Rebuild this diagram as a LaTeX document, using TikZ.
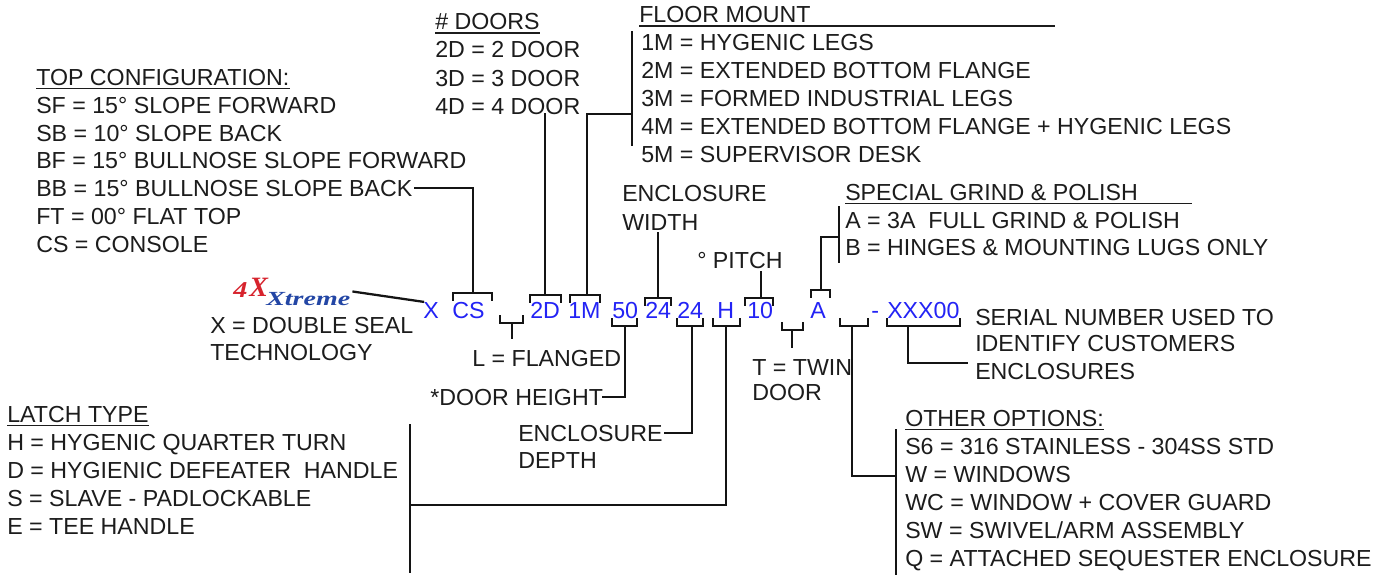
\documentclass[tikz,border=0pt]{standalone}
\usepackage{fontspec}
\setmainfont{Liberation Sans}
\newfontfamily\logofont{Liberation Serif}
\usetikzlibrary{calc}
\definecolor{txt}{RGB}{28,28,28}
\definecolor{linec}{RGB}{20,20,20}
\definecolor{codeblue}{RGB}{35,35,245}
\definecolor{logored}{RGB}{215,35,45}
\definecolor{logoblue}{RGB}{35,70,165}
\newcommand{\lblfont}{\fontsize{17.4}{20}\selectfont}
\newcommand{\brup}[3]{\draw[ln] (#1,#3+7) -- (#1,#3) -- (#2,#3) -- (#2,#3+7);}
\newcommand{\brdn}[3]{\draw[ln] (#1,#3-7) -- (#1,#3) -- (#2,#3) -- (#2,#3-7);}
\tikzset{
  lbl/.style={anchor=base west, inner sep=0pt, text=txt, font=\lblfont},
  codetxt/.style={anchor=base west, inner sep=0pt, text=codeblue, font=\lblfont},
  ln/.style={draw=linec, line width=1.7pt, line cap=rect},
  ul/.style={draw=txt, line width=1.3pt},
  logo/.style={anchor=base west, inner sep=0pt},
}
\begin{document}
\begin{tikzpicture}[x=0.75pt,y=-0.75pt]
\useasboundingbox[fill=white] (0,0) rectangle (1390,575);

% ---------- TOP CONFIGURATION ----------
\node[lbl] (topH) at (36,85) {TOP CONFIGURATION:};
\draw[ul] ($(topH.base west)+(0,3.5)$) -- ($(topH.base east)+(0,3.5)$);
\node[lbl] (sf) at (36,113) {SF = 15° SLOPE FORWARD};
\node[lbl] (sb) at (36,141) {SB = 10° SLOPE BACK};
\node[lbl] (bf) at (36,168) {BF = 15° BULLNOSE SLOPE FORWARD};
\node[lbl] (bb) at (36,196) {BB = 15° BULLNOSE SLOPE BACK};
\node[lbl] (ft) at (36,224) {FT = 00° FLAT TOP};
\node[lbl] (cs) at (36,252) {CS = CONSOLE};

% ---------- # DOORS ----------
\node[lbl] (doorH) at (435,29) {\# DOORS};
\draw[ul] ($(doorH.base west)+(0,4)$) -- ($(doorH.base east)+(0,4)$);
\node[lbl] (d2) at (435,57) {2D = 2 DOOR};
\node[lbl] (d3) at (435,86) {3D = 3 DOOR};
\node[lbl] (d4) at (435,114) {4D = 4 DOOR};

% ---------- FLOOR MOUNT ----------
\node[lbl] (floorH) at (639,22) {FLOOR MOUNT};
\draw[ul] ($(floorH.base west)+(0,4)$) -- (1055,26);
\node[lbl] (m1) at (641,50) {1M = HYGENIC LEGS};
\node[lbl] (m2) at (641,78) {2M = EXTENDED BOTTOM FLANGE};
\node[lbl] (m3) at (641,106) {3M = FORMED INDUSTRIAL LEGS};
\node[lbl] (m4) at (641,134) {4M = EXTENDED BOTTOM FLANGE + HYGENIC LEGS};
\node[lbl] (m5) at (641,162) {5M = SUPERVISOR DESK};
\coordinate (floorbarT) at (632,32);
\coordinate (floorbarB) at (632,145);
\draw[ln] (floorbarT) -- (floorbarB);

% ---------- ENCLOSURE WIDTH / PITCH ----------
\node[lbl] (ew1) at (622,201) {ENCLOSURE};
\node[lbl] (ew2) at (622,230) {WIDTH};
\node[lbl] (pitch) at (697,268) {° PITCH};

% ---------- SPECIAL GRIND ----------
\node[lbl] (spH) at (845,200) {SPECIAL GRIND \& POLISH};
\draw[ul] ($(spH.base west)+(0,3.5)$) -- (1192,203.5);
\node[lbl] (spA) at (845,228) {A = 3A\ \ FULL GRIND \& POLISH};
\node[lbl] (spB) at (845,255) {B = HINGES \& MOUNTING LUGS ONLY};
\coordinate (spbarT) at (839,207);
\coordinate (spbarB) at (839,262);
\draw[ln] (spbarT) -- (spbarB);

% ---------- logo ----------
\node[logo, text=logored, font=\logofont\bfseries\itshape\fontsize{17}{17}\selectfont] (l4) at (233,297) {\scalebox{1.25}[1]{4}};
\node[logo, text=logored, font=\logofont\bfseries\itshape\fontsize{21}{21}\selectfont] (lx) at (249,296) {X};
\node[logo, text=logoblue, font=\logofont\bfseries\itshape\fontsize{15}{15}\selectfont] (lxt) at (266,305) {\scalebox{1.4}[1]{Xtreme}};

\node[lbl] (xl1) at (210,333) {X = DOUBLE SEAL};
\node[lbl] (xl2) at (210,360) {TECHNOLOGY};

% ---------- code row ----------
\node[codetxt] (cX) at (423,318) {X};
\node[codetxt] (cCS) at (452,318) {CS};
\node[codetxt] (c2D) at (530,318) {2D};
\node[codetxt] (c1M) at (568,318) {1M};
\node[codetxt] (c50) at (612,318) {50};
\node[codetxt] (c24w) at (645,318) {24};
\node[codetxt] (c24d) at (677,318) {24};
\node[codetxt] (cH) at (717,318) {H};
\node[codetxt] (c10) at (747,318) {10};
\node[codetxt] (cA) at (810,318) {A};
\node[codetxt] (cdash) at (871,318) {-};
\node[codetxt] (cser) at (887,318) {XXX00};

\draw[ln] (lxt.north east) ++(3,0) -- (cX.north west);

% CS bracket + BB connector
\brup{453}{492}{293}
\draw[ln] (bb.base east) ++(2,-8) -| (473,293);
% 2D
\brup{530}{561}{295}
\draw[ln] (545,295) -- (d4.south -| 545,0);
% 1M
\brup{570}{600}{295}
\draw[ln] (587,295) -- (587,114) -- (floorbarB |- 0,114);
% L flanged
\brdn{500}{523}{323}
\draw[ln] (512,323) -- (512,338);
\node[lbl] (flg) at (472,366) {L = FLANGED};
% 50 door height
\brdn{612}{637}{326}
\node[lbl] (dh) at (430,405) {*DOOR HEIGHT};
\draw[ln] (625,326) -- (625,397) -- (dh.base east |- 0,397);
% 24 width
\brup{645}{671}{298}
\draw[ln] (658,298) -- (658,233);
% 24 depth
\brdn{677}{703}{326}
\node[lbl] (ed1) at (518,441) {ENCLOSURE};
\node[lbl] (ed2) at (518,468) {DEPTH};
\draw[ln] (692,326) -- (692,433) -- ($(ed1.base east)+(2,-8)$);
% H latch
\brdn{713}{740}{326}
\coordinate (latbarT) at (410,425);
\coordinate (latbarB) at (410,572);
\draw[ln] (726,326) -- (726,505) -- (latbarT |- 0,505);
\draw[ln] (latbarT) -- (latbarB);
% 10 pitch
\brup{745}{773}{298}
\draw[ln] (761,298) -- (761,272);
% T twin
\brdn{782}{803}{330}
\draw[ln] (792,330) -- (792,347);
\node[lbl] (tw1) at (752,375) {T = TWIN};
\node[lbl] (tw2) at (752,400) {DOOR};
% A
\brup{811}{830}{290}
\draw[ln] (821,290) -- (821,237) -- (spbarT |- 0,237);
% options
\brdn{840}{868}{326}
\coordinate (opbarT) at (896,430);
\coordinate (opbarB) at (896,575);
\draw[ln] (852,326) -- (852,476) -- (opbarT |- 0,476);
\draw[ln] (opbarT) -- (opbarB);
% serial
\brdn{887}{960}{326}
\draw[ln] (908,326) -- (908,363) -- (967,363);
\node[lbl] (se1) at (975,325) {SERIAL NUMBER USED TO};
\node[lbl] (se2) at (975,351) {IDENTIFY CUSTOMERS};
\node[lbl] (se3) at (975,379) {ENCLOSURES};

% ---------- LATCH TYPE ----------
\node[lbl] (latH) at (7,422) {LATCH TYPE};
\draw[ul] ($(latH.base west)+(0,3.5)$) -- ($(latH.base east)+(0,3.5)$);
\node[lbl] (la1) at (7,450) {H = HYGENIC QUARTER TURN};
\node[lbl] (la2) at (7,478) {D = HYGIENIC DEFEATER\ \ HANDLE};
\node[lbl] (la3) at (7,506) {S = SLAVE - PADLOCKABLE};
\node[lbl] (la4) at (7,534) {E = TEE HANDLE};

% ---------- OTHER OPTIONS ----------
\node[lbl] (opH) at (905,426) {OTHER OPTIONS:};
\draw[ul] ($(opH.base west)+(0,3.5)$) -- ($(opH.base east)+(0,3.5)$);
\node[lbl] (op1) at (905,454) {S6 = 316 STAINLESS - 304SS STD};
\node[lbl] (op2) at (905,482) {W = WINDOWS};
\node[lbl] (op3) at (905,510) {WC = WINDOW + COVER GUARD};
\node[lbl] (op4) at (905,538) {SW = SWIVEL/ARM ASSEMBLY};
\node[lbl] (op5) at (905,566) {Q = ATTACHED SEQUESTER ENCLOSURE};
\end{tikzpicture}
\end{document}
